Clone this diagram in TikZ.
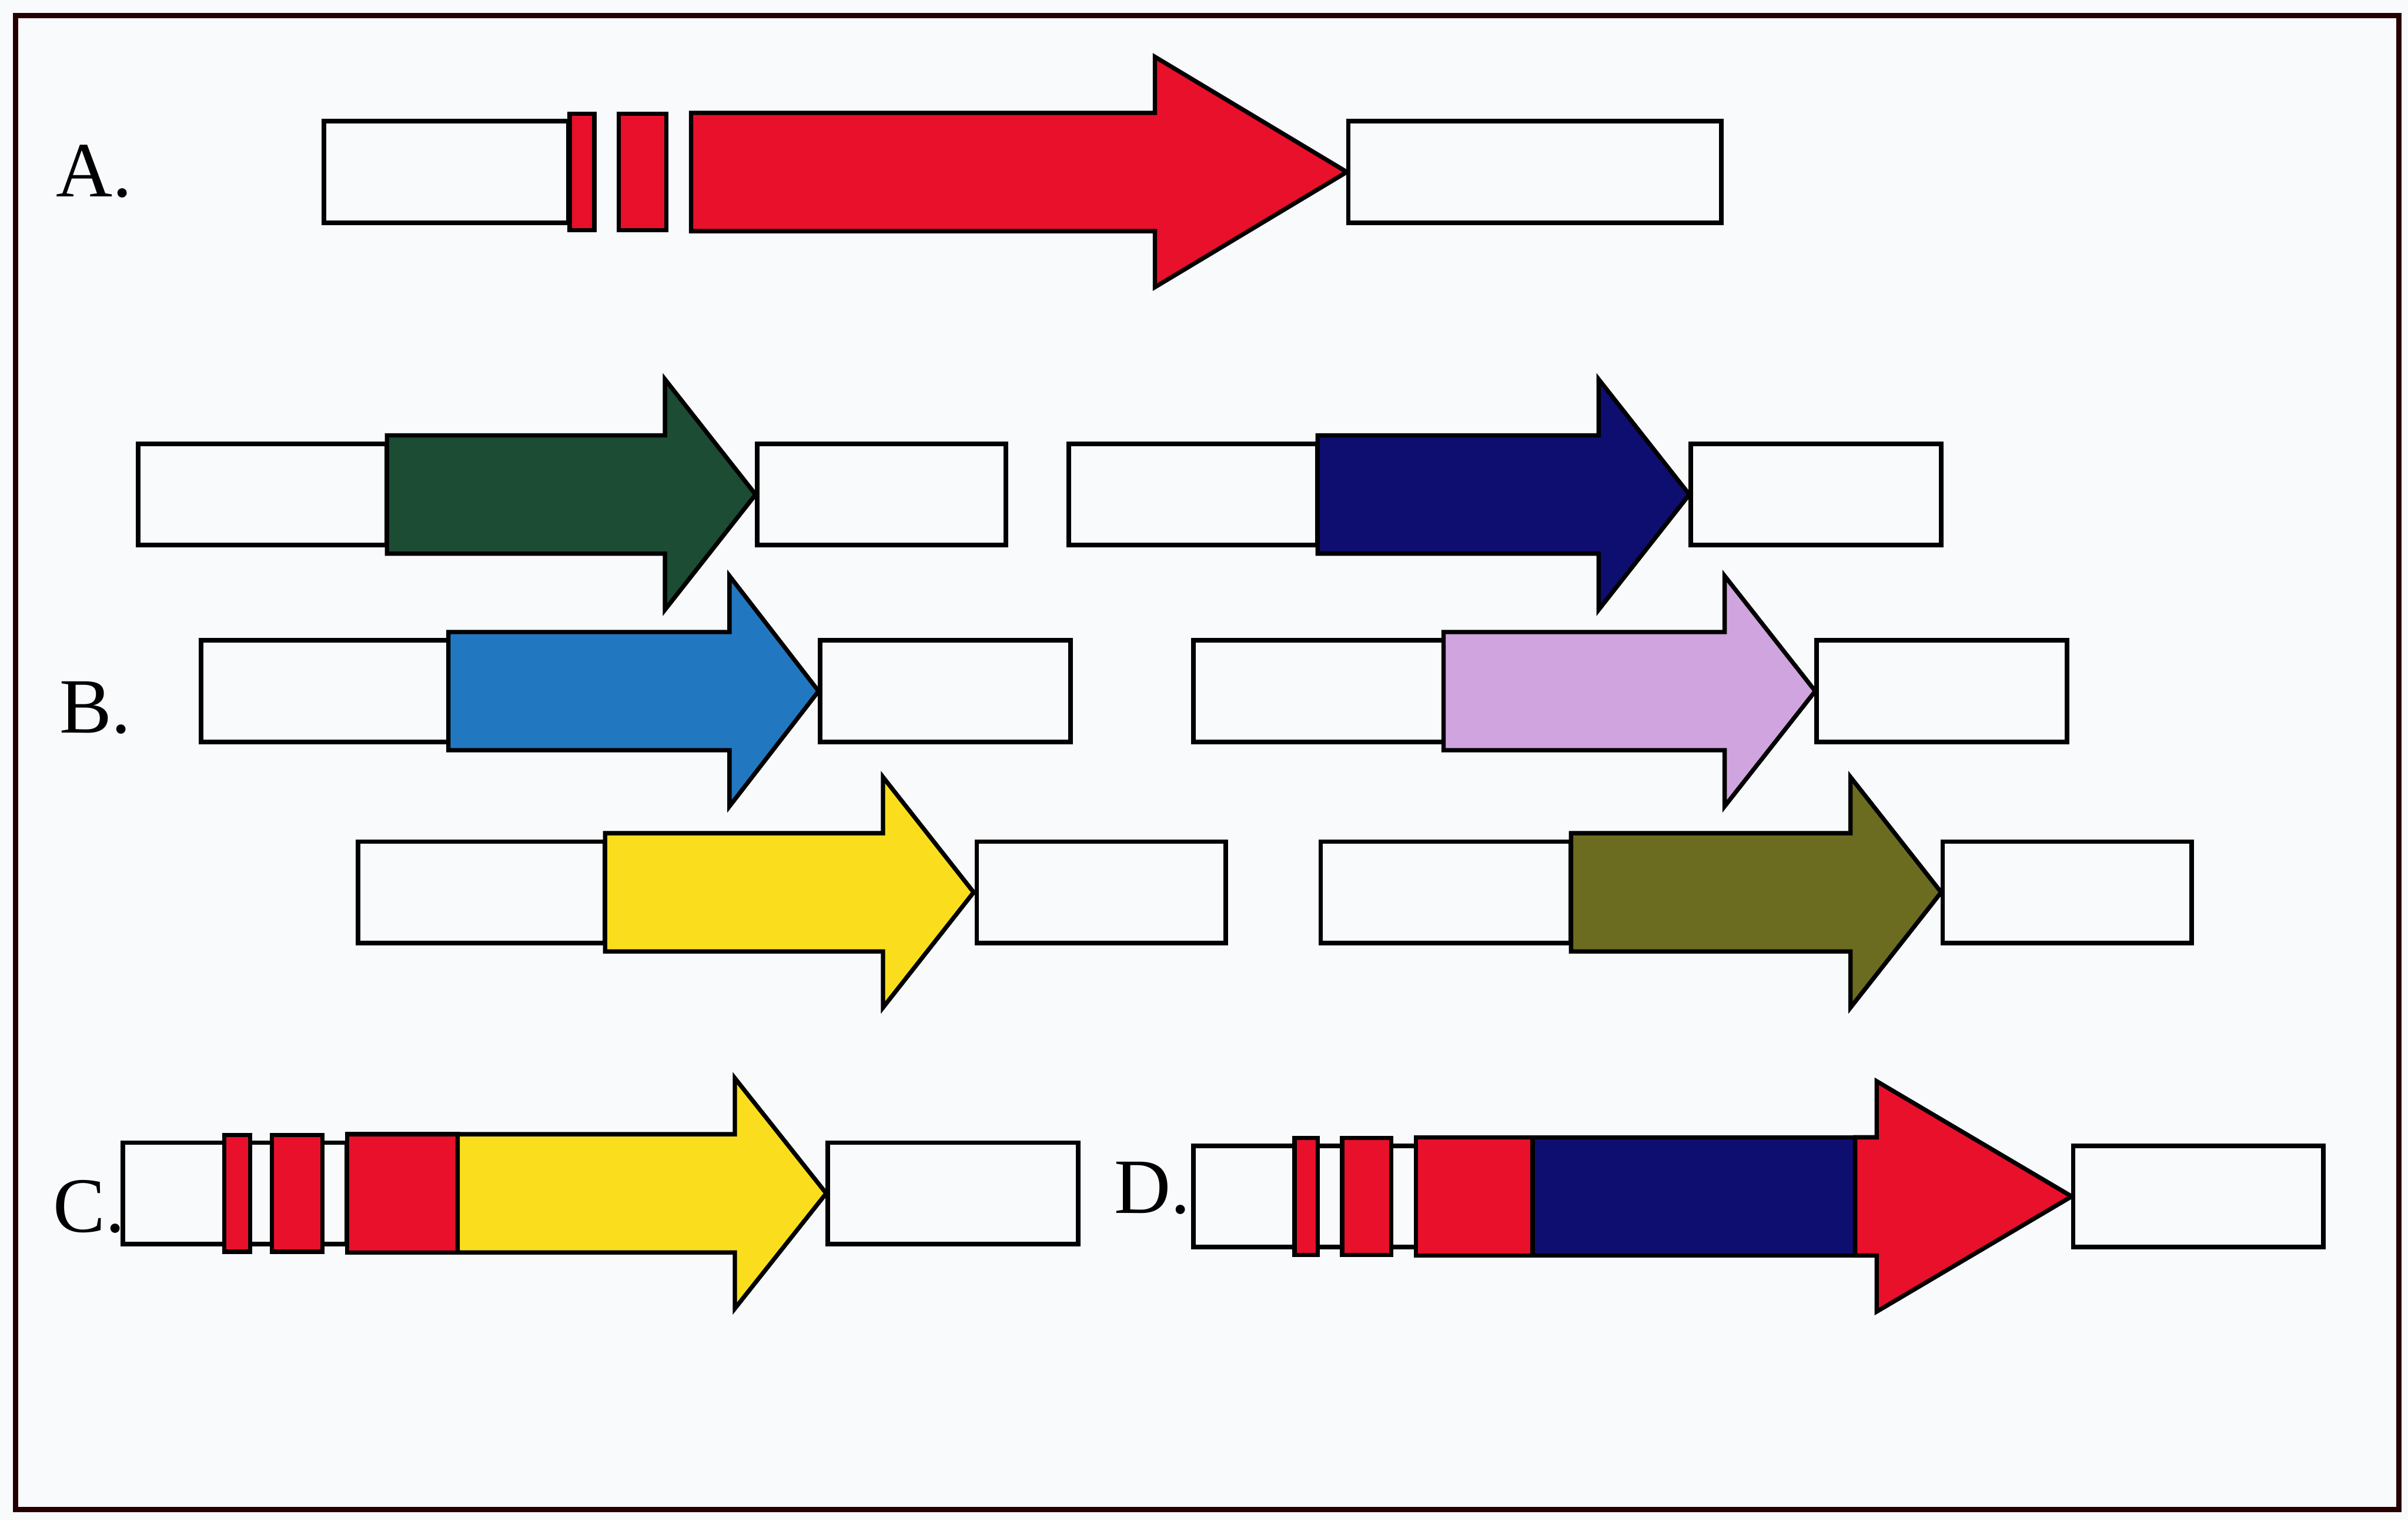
\documentclass[tikz,border=0pt]{standalone}
\usepackage{fontspec}
\setmainfont{Liberation Serif}
\definecolor{paper}{RGB}{249,250,252}
\definecolor{genered}{RGB}{232,16,42}
\definecolor{genegreen}{RGB}{28,76,52}
\definecolor{genenavy}{RGB}{14,14,112}
\definecolor{geneblue}{RGB}{34,120,192}
\definecolor{genelilac}{RGB}{208,164,222}
\definecolor{geneyellow}{RGB}{250,222,30}
\definecolor{geneolive}{RGB}{108,108,32}
\begin{document}
\begin{tikzpicture}[
        flank/.style = {draw, fill = paper, line width = 0.85pt},
        gene/.style = {draw, line width = 0.8pt, line join = miter},
        panel/.style = {anchor = base west, inner sep = 0pt, font = \fontsize{14.5}{17}\selectfont}
    ]
        \useasboundingbox (0, 0) rectangle (15.68, 9.90);
        \fill[paper] (0, 0) rectangle (15.68, 9.90);
        \draw[line width = 1pt, black!85!red] (0.10, 0.07) rectangle (15.62, 9.80);
        \node[panel] (labA) at (0.36, 8.62) {A.};
        \node[panel] (labB) at (0.38, 5.13) {B.};
        \node[panel] (labC) at (0.34, 1.88) {C.};
        \node[panel] (labD) at (7.25, 2.00) {D.};
        \draw[flank] (2.11, 8.45) rectangle (3.70, 9.11);
        \draw[gene, fill = genered] (3.71, 8.40) rectangle (3.87, 9.16);
        \draw[gene, fill = genered] (4.03, 8.40) rectangle (4.34, 9.16);
        \draw[gene, fill = genered] (4.50, 8.395) -- (4.50, 9.165) -- (7.52, 9.165) -- (7.52, 9.53) -- (8.77, 8.78) -- (7.52, 8.03) -- (7.52, 8.395) -- cycle;
        \draw[flank] (8.78, 8.45) rectangle (11.21, 9.11);
        \draw[flank] (0.90, 6.35) rectangle (2.52, 7.01);
        \draw[gene, fill = genegreen] (2.52, 6.295) -- (2.52, 7.065) -- (4.33, 7.065) -- (4.33, 7.43) -- (4.92, 6.68) -- (4.33, 5.93) -- (4.33, 6.295) -- cycle;
        \draw[flank] (4.93, 6.35) rectangle (6.55, 7.01);
        \draw[flank] (6.96, 6.35) rectangle (8.58, 7.01);
        \draw[gene, fill = genenavy] (8.58, 6.295) -- (8.58, 7.065) -- (10.41, 7.065) -- (10.41, 7.43) -- (11.00, 6.68) -- (10.41, 5.93) -- (10.41, 6.295) -- cycle;
        \draw[flank] (11.01, 6.35) rectangle (12.64, 7.01);
        \draw[flank] (1.31, 5.07) rectangle (2.92, 5.73);
        \draw[gene, fill = geneblue] (2.92, 5.015) -- (2.92, 5.785) -- (4.75, 5.785) -- (4.75, 6.15) -- (5.33, 5.40) -- (4.75, 4.65) -- (4.75, 5.015) -- cycle;
        \draw[flank] (5.34, 5.07) rectangle (6.97, 5.73);
        \draw[flank] (7.77, 5.07) rectangle (9.40, 5.73);
        \draw[gene, fill = genelilac] (9.40, 5.015) -- (9.40, 5.785) -- (11.23, 5.785) -- (11.23, 6.15) -- (11.82, 5.40) -- (11.23, 4.65) -- (11.23, 5.015) -- cycle;
        \draw[flank] (11.83, 5.07) rectangle (13.46, 5.73);
        \draw[flank] (2.33, 3.76) rectangle (3.94, 4.42);
        \draw[gene, fill = geneyellow] (3.94, 3.705) -- (3.94, 4.475) -- (5.75, 4.475) -- (5.75, 4.84) -- (6.34, 4.09) -- (5.75, 3.34) -- (5.75, 3.705) -- cycle;
        \draw[flank] (6.36, 3.76) rectangle (7.98, 4.42);
        \draw[flank] (8.60, 3.76) rectangle (10.23, 4.42);
        \draw[gene, fill = geneolive] (10.23, 3.705) -- (10.23, 4.475) -- (12.05, 4.475) -- (12.05, 4.84) -- (12.64, 4.09) -- (12.05, 3.34) -- (12.05, 3.705) -- cycle;
        \draw[flank] (12.65, 3.76) rectangle (14.27, 4.42);
        \draw[flank] (0.80, 1.80) rectangle (2.26, 2.46);
        \draw[gene, fill = genered] (1.46, 1.75) rectangle (1.63, 2.51);
        \draw[gene, fill = genered] (1.77, 1.75) rectangle (2.10, 2.51);
        \draw[gene, fill = genered] (2.26, 1.745) rectangle (2.98, 2.515);
        \draw[gene, fill = geneyellow] (2.98, 1.745) -- (2.98, 2.515) -- (4.785, 2.515) -- (4.785, 2.88) -- (5.38, 2.13) -- (4.785, 1.38) -- (4.785, 1.745) -- cycle;
        \draw[flank] (5.39, 1.80) rectangle (7.02, 2.46);
        \draw[flank] (7.77, 1.78) rectangle (9.22, 2.44);
        \draw[gene, fill = genered] (8.43, 1.73) rectangle (8.58, 2.49);
        \draw[gene, fill = genered] (8.74, 1.73) rectangle (9.06, 2.49);
        \draw[gene, fill = genered] (9.22, 1.725) rectangle (9.98, 2.495);
        \draw[gene, fill = genenavy] (9.98, 1.725) rectangle (12.08, 2.495);
        \draw[gene, fill = genered] (12.08, 1.725) -- (12.08, 2.495) -- (12.22, 2.495) -- (12.22, 2.86) -- (13.49, 2.11) -- (12.22, 1.36) -- (12.22, 1.725) -- cycle;
        \draw[flank] (13.50, 1.78) rectangle (15.13, 2.44);
    \end{tikzpicture}
\end{document}
